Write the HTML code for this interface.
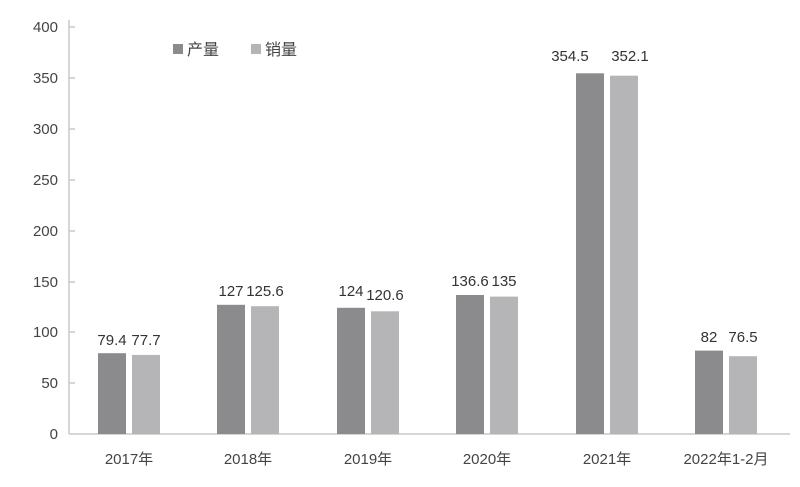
<!DOCTYPE html>
<html><head><meta charset="utf-8"><style>
html,body{margin:0;padding:0;background:#fff;}
svg{display:block;font-family:"Liberation Sans","Noto Sans CJK SC",sans-serif;}
</style></head><body>
<svg width="800" height="487" viewBox="0 0 800 487">
<g stroke="#c8c8c8" stroke-width="1.5">
<line x1="69" y1="20" x2="69" y2="434"/>
<line x1="69" y1="434" x2="790" y2="434"/>
<line x1="69" y1="383" x2="75" y2="383"/>
<line x1="69" y1="332" x2="75" y2="332"/>
<line x1="69" y1="282" x2="75" y2="282"/>
<line x1="69" y1="231" x2="75" y2="231"/>
<line x1="69" y1="180" x2="75" y2="180"/>
<line x1="69" y1="129" x2="75" y2="129"/>
<line x1="69" y1="78" x2="75" y2="78"/>
<line x1="69" y1="27" x2="75" y2="27"/>
</g>
<g font-size="15" fill="#444" text-anchor="end">
<text x="58" y="439">0</text>
<text x="58" y="388">50</text>
<text x="58" y="337">100</text>
<text x="58" y="287">150</text>
<text x="58" y="236">200</text>
<text x="58" y="185">250</text>
<text x="58" y="134">300</text>
<text x="58" y="83">350</text>
<text x="58" y="32">400</text>
</g>
<g fill="#8b8b8e">
<rect x="98" y="353.2" width="28" height="80.8"/>
<rect x="217" y="304.8" width="28" height="129.2"/>
<rect x="337" y="307.8" width="28" height="126.2"/>
<rect x="456" y="295" width="28" height="139"/>
<rect x="576" y="73.3" width="28" height="360.7"/>
<rect x="695" y="350.6" width="28" height="83.4"/>
</g>
<g fill="#b5b5b7">
<rect x="132" y="354.9" width="28" height="79.1"/>
<rect x="251" y="306.2" width="28" height="127.8"/>
<rect x="371" y="311.3" width="28" height="122.7"/>
<rect x="490" y="296.6" width="28" height="137.4"/>
<rect x="610" y="75.7" width="28" height="358.3"/>
<rect x="729" y="356.2" width="28" height="77.8"/>
</g>
<g font-size="15" fill="#333" text-anchor="middle">
<text x="112" y="345">79.4</text><text x="146" y="345">77.7</text>
<text x="231" y="296">127</text><text x="265" y="296">125.6</text>
<text x="351" y="296">124</text><text x="385" y="300">120.6</text>
<text x="470" y="286">136.6</text><text x="504" y="286">135</text>
<text x="570" y="61">354.5</text><text x="630" y="61">352.1</text>
<text x="709" y="342">82</text><text x="743" y="342">76.5</text>
</g>
<g font-size="15" fill="#444" text-anchor="middle">
<text x="129" y="464">2017年</text>
<text x="248" y="464">2018年</text>
<text x="368" y="464">2019年</text>
<text x="487" y="464">2020年</text>
<text x="607" y="464">2021年</text>
<text x="726" y="464">2022年1-2月</text>
</g>
<rect x="173" y="44" width="10" height="10" fill="#8b8b8e"/>
<text x="187" y="55" font-size="16" fill="#444">产量</text>
<rect x="251" y="44" width="10" height="10" fill="#b5b5b7"/>
<text x="265" y="55" font-size="16" fill="#444">销量</text>
</svg>
</body></html>
